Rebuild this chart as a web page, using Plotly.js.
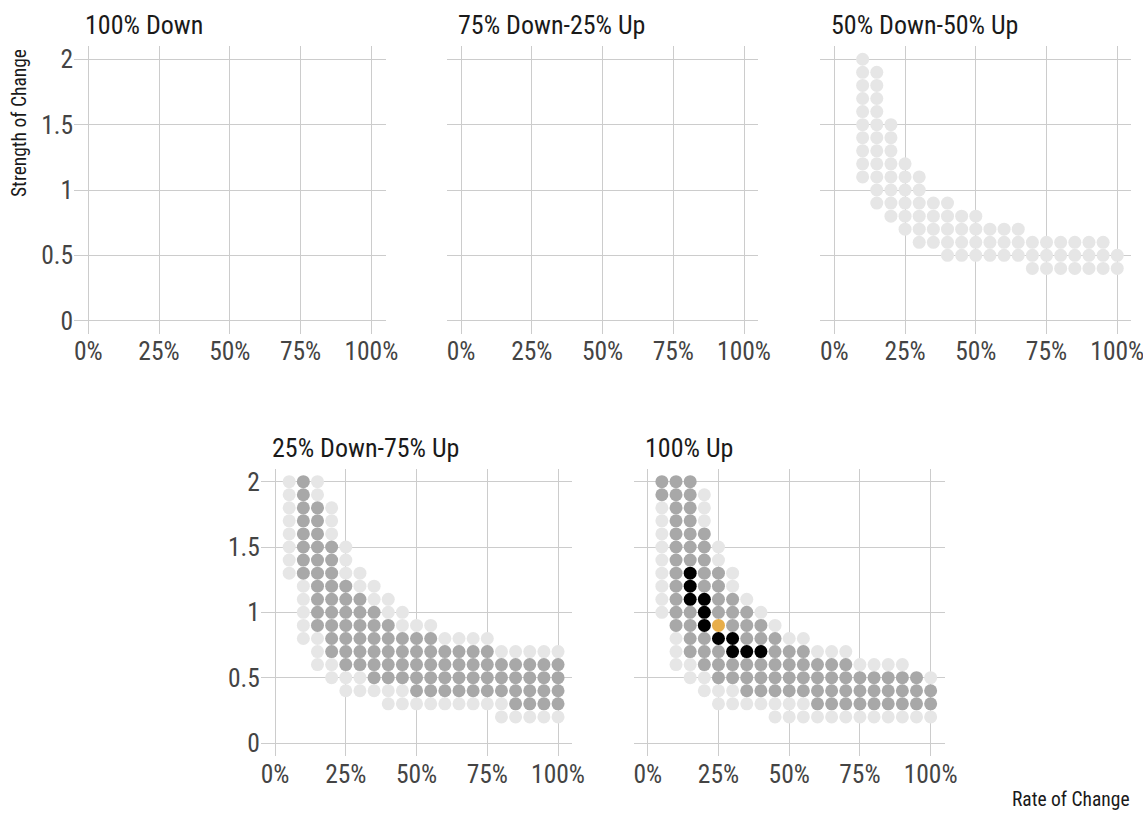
<!DOCTYPE html>
<html>
<head>
<meta charset="utf-8">
<script src="https://cdn.plot.ly/plotly-3.0.1.min.js"></script>
<style>html,body{margin:0;padding:0;background:#fff;}#chart{width:1143px;height:814px;}</style>
</head>
<body>
<div id="chart"></div>
<script>
// ---- data ----
const panelTitles = ["100% Down", "75% Down-25% Up", "50% Down-50% Up", "25% Down-75% Up", "100% Up"];
const rateValues = [0.05,0.10,0.15,0.20,0.25,0.30,0.35,0.40,0.45,0.50,0.55,0.60,0.65,0.70,0.75,0.80,0.85,0.90,0.95,1.00];
const strengthValues = [2.0,1.9,1.8,1.7,1.6,1.5,1.4,1.3,1.2,1.1,1.0,0.9,0.8,0.7,0.6,0.5,0.4,0.3,0.2];
const xTickVals = [0, 0.25, 0.5, 0.75, 1];
const xTickText = ["0%", "25%", "50%", "75%", "100%"];
const yTickVals = [0, 0.5, 1, 1.5, 2];
const yTickText = ["0", "0.5", "1", "1.5", "2"];
// L = light grey, D = dark grey, B = black, O = orange, . = no point
const grid100Down = [];
const grid75Down25Up = [];
const grid50Down50Up = [
  ".L..................",
  ".LL.................",
  ".LL.................",
  ".LL.................",
  ".LL.................",
  ".LLL................",
  ".LLL................",
  ".LLL................",
  ".LLLL...............",
  ".LLLLL..............",
  "..LLLL..............",
  "..LLLLLL............",
  "...LLLLLLL..........",
  "....LLLLLLLLL.......",
  ".....LLLLLLLLLLLLLL.",
  ".......LLLLLLLLLLLLL",
  ".............LLLLLLL",
  "....................",
  "...................."
];
const grid25Down75Up = [
  "LDL.................",
  "LDL.................",
  "LDDL................",
  "LDDL................",
  "LDDL................",
  "LDDDL...............",
  "LDDDL...............",
  "LDDDLL..............",
  ".LDDDLL.............",
  ".LDDDDLL............",
  ".LDDDDDLL...........",
  ".LDDDDDDLLL.........",
  ".LLDDDDDDDDLLLL.....",
  "..LDDDDDDDDDDDDLLLLL",
  "..LLDDDDDDDDDDDDDDDD",
  "...LLLDDDDDDDDDDDDDD",
  "....LLLLLDDDDDDDDDDD",
  ".......LLLLLLLLLDDDD",
  "...............LLLLL"
];
const grid100Up = [
  "DDD.................",
  "DDDL................",
  "LDDL................",
  "LDDL................",
  "LDDD................",
  "LDDDL...............",
  "LDDDL...............",
  "LDBDDL..............",
  "LDBDDL..............",
  "LDBBDDL.............",
  "LDDBDDDL............",
  ".DDBODDDL...........",
  ".LDDBBDDDLL.........",
  ".LDDDBBBDDDLLL......",
  ".LLDDDDDDDDDDDLLLL..",
  "..LLDDDDDDDDDDDDDDDL",
  "...LLLDDDDDDDDDDDDDD",
  "....LLLLLLLDDDDDDDDD",
  "........LLLLLLLLLLLL"
];
const panelGrids = [grid100Down, grid75Down25Up, grid50Down50Up, grid25Down75Up, grid100Up];

// ---- styling ----
const W = 1143, H = 814;
const colorMap = {L: "#e6e6e6", D: "#a8a8a8", B: "#000000", O: "#e8ae4a"};
const drawOrder = ["L", "D", "B", "O"];
const FONT = "'Roboto Condensed', 'Liberation Sans Narrow', 'DejaVu Sans Condensed', Roboto, sans-serif";
const xDomPx = [[74.1, 385.5], [446.9, 758.2], [820.2, 1131.4], [260.9, 572.2], [633.6, 944.8]];
const yDomPx = [[46.2, 333.8], [46.2, 333.8], [46.2, 333.8], [468.6, 756.1], [468.6, 756.1]];
const showYLabels = [true, false, false, true, false];

const traces = [];
const layout = {
  width: W, height: H,
  margin: {l: 0, r: 0, t: 0, b: 0},
  paper_bgcolor: "#ffffff", plot_bgcolor: "#ffffff",
  showlegend: false,
  font: {family: FONT, color: "#444444"},
  annotations: []
};

panelGrids.forEach((grid, p) => {
  const sfx = p === 0 ? "" : String(p + 1);
  drawOrder.forEach(cat => {
    const xs = [], ys = [];
    grid.forEach((row, r) => {
      for (let c = 0; c < row.length; c++) {
        if (row[c] === cat) { xs.push(rateValues[c]); ys.push(strengthValues[r]); }
      }
    });
    if (xs.length) {
      traces.push({
        type: "scatter", mode: "markers", x: xs, y: ys,
        xaxis: "x" + sfx, yaxis: "y" + sfx,
        marker: {color: colorMap[cat], size: 13, line: {width: 0}},
        hoverinfo: "skip"
      });
    }
  });
  if (!traces.some(t => t.xaxis === "x" + sfx)) {
    traces.push({type: "scatter", mode: "markers", x: [], y: [], xaxis: "x" + sfx, yaxis: "y" + sfx});
  }
  layout["xaxis" + sfx] = {
    domain: [xDomPx[p][0] / W, xDomPx[p][1] / W],
    range: [-0.05, 1.05], anchor: "y" + sfx,
    tickvals: xTickVals, ticktext: xTickText,
    ticklabeloverflow: "allow",
    showgrid: true, gridcolor: "#cccccc", gridwidth: 1,
    zeroline: false, showline: false, ticks: "",
    tickfont: {family: FONT, size: 25.5, color: "#444444"},
    fixedrange: true
  };
  layout["yaxis" + sfx] = {
    domain: [1 - yDomPx[p][1] / H, 1 - yDomPx[p][0] / H],
    range: [-0.1, 2.1], anchor: "x" + sfx,
    tickvals: yTickVals, ticktext: yTickText,
    ticklabeloverflow: "allow",
    showticklabels: showYLabels[p],
    showgrid: true, gridcolor: "#cccccc", gridwidth: 1,
    zeroline: false, showline: false, ticks: "",
    tickfont: {family: FONT, size: 25.5, color: "#444444"},
    fixedrange: true
  };
  layout.annotations.push({
    text: panelTitles[p], xref: "paper", yref: "paper",
    x: (xDomPx[p][0] + 9) / W, y: 1 - (yDomPx[p][0] - 21) / H,
    xanchor: "left", yanchor: "middle", showarrow: false,
    font: {family: FONT, size: 26, color: "#1a1a1a"}
  });
});

layout.annotations.push({
  text: "Strength of Change", xref: "paper", yref: "paper",
  x: 19 / W, y: 1 - 47 / H, xanchor: "center", yanchor: "top",
  textangle: -90, showarrow: false,
  font: {family: FONT, size: 19.5, color: "#1a1a1a"}
});
layout.annotations.push({
  text: "Rate of Change", xref: "paper", yref: "paper",
  x: 1132 / W, y: 1 - 799 / H, xanchor: "right", yanchor: "middle",
  showarrow: false,
  font: {family: FONT, size: 19.5, color: "#1a1a1a"}
});

Plotly.newPlot("chart", traces, layout, {displayModeBar: false, staticPlot: true});
</script>
</body>
</html>
